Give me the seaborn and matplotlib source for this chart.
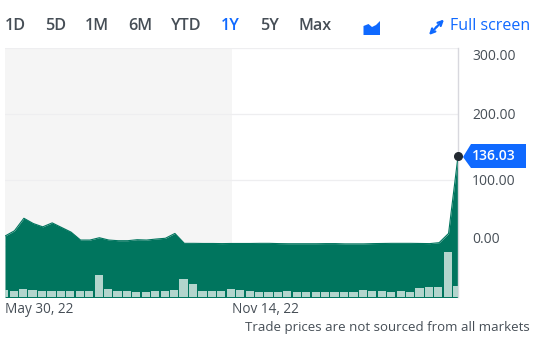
import numpy as np
import pandas as pd
import matplotlib
matplotlib.use('Agg')
import matplotlib.pyplot as plt
from matplotlib.patches import Polygon, FancyArrowPatch
from matplotlib.transforms import ScaledTranslation
import seaborn as sns

# weekly values
price = [15, 23, 42, 34, 29, 35, 28, 21, 9, 9, 12.5, 9, 8, 8, 9.5, 9, 10.5, 11.7, 19, 4,
         4, 3.8, 3.8, 3.6, 3.8, 3.8, 3.8, 4, 4, 3.6, 3.4, 3.4, 3.4, 3.4, 3.6, 3.6, 3.2,
         3.2, 3.2, 3.6, 3.8, 4, 4, 4, 3.8, 3.6, 5, 19, 136.03]
volume = [7, 5.7, 7.7, 7, 6.3, 6.3, 6.3, 5.7, 6.3, 5.7, 22.3, 8.3, 5.7, 5.7, 5, 5.3, 6, 5.7, 6.7,
          18, 12.7, 6, 5.7, 6.3, 8.3, 7.3, 6, 5, 5, 5, 6, 5.3, 5, 5, 5, 5.3, 5.3, 5, 7.3, 5.7,
          5.7, 5.3, 5.7, 5.3, 9.3, 10.3, 9.7, 44.7, 11.3]
tabs = ['1D', '5D', '1M', '6M', 'YTD', '1Y', '5Y', 'Max']
tab_x = [5, 45, 85, 128, 171, 221, 260, 298]
y_ticks = [300, 200, 100, 0]
date_ticks = [0, 24]
date_labels = ['May 30, 22', 'Nov 14, 22']

GREEN = '#00755e'
BLUE = '#0f69ff'
TEXT = '#464e56'
GRID = '#eeeef0'

W, H = 555, 361
df = pd.DataFrame({'week': np.arange(len(price)), 'price': price, 'volume': volume})

sns.set_theme(style='white')
plt.rcParams['font.family'] = ['Open Sans', 'DejaVu Sans']


def px(x, y):
    return x / W, 1 - y / H


def box(left, top, right, bottom):
    return [left / W, 1 - bottom / H, (right - left) / W, (bottom - top) / H]


fig = plt.figure(figsize=(W / 100, H / 100), dpi=100)
ax = fig.add_axes(box(5, 48, 458, 297))

ax.axvspan(0, 24, color='#f5f5f5', lw=0, zorder=0)
sns.lineplot(data=df, x='week', y='price', ax=ax, color=GREEN, lw=0.8, zorder=3)
ax.fill_between(df['week'], df['price'], -80, color=GREEN, lw=0, zorder=2)
ax.set_xlim(0, 48)
ax.set_ylim(-77.3, 300)
ax.set_xlabel('')
ax.set_ylabel('')

ax.yaxis.tick_right()
ax.set_yticks(y_ticks)
ax.set_yticklabels([f'{v:.2f}' for v in y_ticks], fontsize=10, color=TEXT)
ax.tick_params(axis='y', length=0, pad=10)
for lab, va in zip(ax.get_yticklabels(), ['top', 'center', 'center', 'bottom']):
    lab.set_va(va)
    # labels sit a touch lower than matplotlib centres them
    lab.set_transform(lab.get_transform() + ScaledTranslation(0, -1.5 / 100, fig.dpi_scale_trans))
ax.set_xticks(date_ticks)
ax.set_xticklabels(date_labels, fontsize=9.8, color=TEXT, ha='left')
ax.tick_params(axis='x', length=0, pad=3.5)
ax.grid(axis='y', color=GRID, lw=0.9, zorder=1)
sns.despine(ax=ax, left=True, bottom=True, top=True, right=False)
ax.spines['right'].set_color('#d8d8de')
ax.spines['right'].set_linewidth(1)

# volume bars sit on top of the area
vol_ax = fig.add_axes(box(5, 48, 458, 297))
vol_ax.patch.set_alpha(0)
sns.barplot(data=df, x='week', y='volume', ax=vol_ax, native_scale=True, color='#b3d5cd',
            width=0.87, saturation=1, linewidth=0)
vol_ax.set_xlim(0.08, 48.08)
vol_ax.set_ylim(0, 249)
vol_ax.axis('off')

# last price marker and label
vol_ax.plot([48.08], [(price[-1] + 77.3) * 249 / 377.3], 'o', ms=5.5, color='#232a31', clip_on=False, zorder=6)
fig.add_artist(Polygon([px(463, 157), px(471, 144), px(526, 144), px(526, 168), px(471, 168)],
                       closed=True, color=BLUE, lw=0, transform=fig.transFigure))
fig.text(*px(472, 156.5), f'{price[-1]:.2f}', color='white', fontsize=10, fontweight='semibold', va='center')

# toolbar
for name, x in zip(tabs, tab_x):
    fig.text(*px(x, 26.5), name, fontsize=11.6, fontweight='semibold', va='center',
             color=BLUE if name == '1Y' else TEXT)
fig.add_artist(Polygon([px(363.5, 35), px(363.5, 26), px(368.5, 24), px(372, 27), px(376, 25), px(380, 21), px(380, 35)],
                       closed=True, color=BLUE, lw=0, transform=fig.transFigure))
for start, end in [((436.5, 27), (429, 35)), ((436.5, 27), (444, 19.5))]:
    fig.add_artist(FancyArrowPatch(px(*start), px(*end), arrowstyle='->', mutation_scale=8,
                                   color=BLUE, lw=1.6, shrinkA=0, shrinkB=0, transform=fig.transFigure))
fig.text(*px(450, 26.5), 'Full screen', fontsize=11.5, color=BLUE, va='center')

fig.text(*px(530, 328), 'Trade prices are not sourced from all markets', fontsize=9.5, color=TEXT,
         ha='right', va='center')

fig.savefig('out.png', dpi=100)
